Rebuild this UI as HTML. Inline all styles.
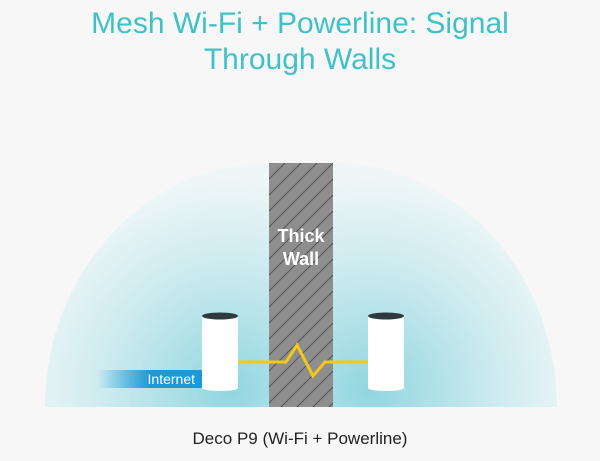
<!DOCTYPE html>
<html><head><style>
html,body{margin:0;padding:0;background:#f7f7f7;width:600px;height:461px;overflow:hidden;}
svg{display:block;}
</style></head><body>
<svg width="600" height="461" viewBox="0 0 600 461" xmlns="http://www.w3.org/2000/svg">
<defs>
<radialGradient id="gl" cx="230" cy="390" r="210" gradientUnits="userSpaceOnUse">
<stop offset="0" stop-color="#92d6e0"/><stop offset="0.6" stop-color="#cdebef"/><stop offset="1" stop-color="#eef6f7"/>
</radialGradient>
<radialGradient id="gr" cx="370" cy="390" r="210" gradientUnits="userSpaceOnUse">
<stop offset="0" stop-color="#92d6e0"/><stop offset="0.6" stop-color="#cdebef"/><stop offset="1" stop-color="#eef6f7"/>
</radialGradient>
<linearGradient id="ib" x1="0" x2="1">
<stop offset="0" stop-color="#1a9ad8" stop-opacity="0"/><stop offset="0.5" stop-color="#1a9ad8"/><stop offset="1" stop-color="#1a9ad8"/>
</linearGradient>
<pattern id="hatch" width="16" height="16" patternUnits="userSpaceOnUse">
<rect width="16" height="16" fill="#8e8e8e"/>
<path d="M-4 4 L4 -4 M0 16 L16 0 M12 20 L20 12" stroke="#555" stroke-width="1"/>
</pattern>
<clipPath id="cl"><rect x="0" y="0" width="270" height="407"/></clipPath>
<clipPath id="cr"><rect x="332" y="0" width="268" height="407"/></clipPath>
</defs>
<text x="300" y="33" text-anchor="middle" font-family="Liberation Sans, sans-serif" font-size="30" fill="#3fc1c9">Mesh Wi-Fi + Powerline: Signal</text>
<text x="300" y="69" text-anchor="middle" font-family="Liberation Sans, sans-serif" font-size="30" fill="#3fc1c9">Through Walls</text>
<ellipse cx="270" cy="407" rx="225" ry="244" fill="url(#gl)" clip-path="url(#cl)"/>
<ellipse cx="332" cy="407" rx="225" ry="244" fill="url(#gr)" clip-path="url(#cr)"/>
<rect x="269" y="163" width="64" height="244" fill="url(#hatch)"/>
<text x="301" y="242" text-anchor="middle" font-family="Liberation Sans, sans-serif" font-size="18" font-weight="bold" fill="#fff">Thick</text>
<text x="301" y="265" text-anchor="middle" font-family="Liberation Sans, sans-serif" font-size="18" font-weight="bold" fill="#fff">Wall</text>
<rect x="97" y="370" width="107" height="18" fill="url(#ib)"/>
<text x="195" y="384" text-anchor="end" font-family="Liberation Sans, sans-serif" font-size="14" fill="#fff">Internet</text>
<polyline points="236,362 286,362 297,345 313,376 325,362 370,362" fill="none" stroke="#f2c81d" stroke-width="3" stroke-linejoin="miter"/>
<g>
<rect x="202" y="316" width="36" height="72" fill="#fff"/>
<ellipse cx="220" cy="388" rx="18" ry="3" fill="#fff"/>
<ellipse cx="220" cy="316" rx="18" ry="3.5" fill="#2f3a40"/>
</g>
<g>
<rect x="368" y="316" width="36" height="72" fill="#fff"/>
<ellipse cx="386" cy="388" rx="18" ry="3" fill="#fff"/>
<ellipse cx="386" cy="316" rx="18" ry="3.5" fill="#2f3a40"/>
</g>
<text x="300" y="444" text-anchor="middle" font-family="Liberation Sans, sans-serif" font-size="17" fill="#222">Deco P9 (Wi-Fi + Powerline)</text>
</svg>
</body></html>
